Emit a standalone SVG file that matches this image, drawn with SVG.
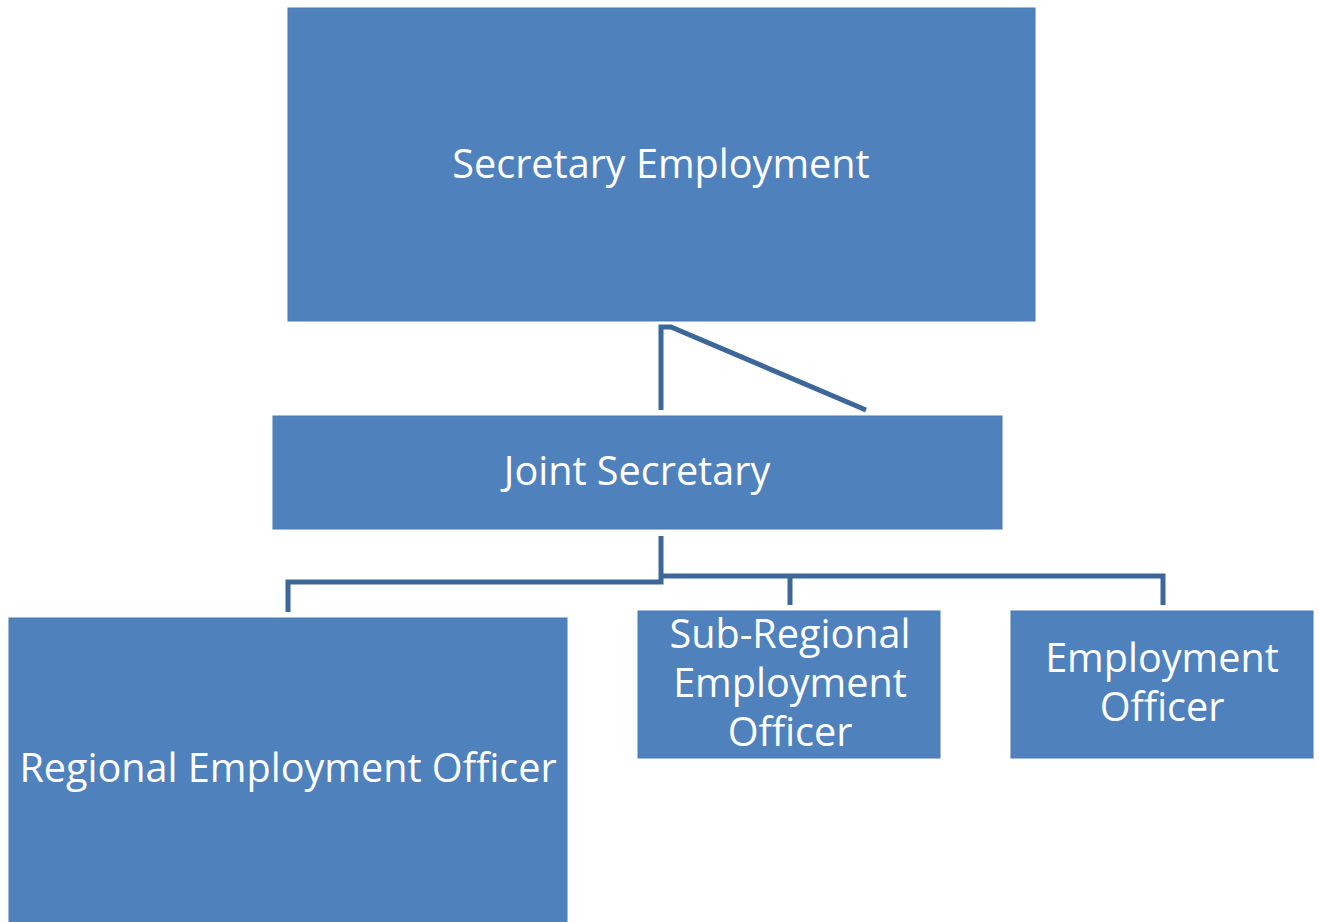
<svg xmlns="http://www.w3.org/2000/svg" width="1319" height="922" viewBox="0 0 1319 922">
<style>
.box{fill:#4F81BD;stroke:#4A7AB4;stroke-width:1}
.t{font-family:"Open Sans","Liberation Sans",sans-serif;font-size:39.6px;fill:#FFFFFF;text-anchor:middle}
.c{fill:none;stroke:#3D6699;stroke-width:5;stroke-linejoin:miter}
</style>
<rect width="1319" height="922" fill="#FFFFFF"/>
<g id="connectors">
<path class="c" d="M661,410 V327 H671 L866,410"/>
<path class="c" d="M661,536 V582 H288 V612"/>
<path class="c" d="M661,576 H1163 V605"/>
<path class="c" d="M790,576 V605"/>
</g>
<g id="secretary">
<rect class="box" x="288" y="8" width="747" height="313"/>
<text class="t" x="661" y="178">Secretary Employment</text>
</g>
<g id="joint">
<rect class="box" x="273" y="416" width="729" height="113"/>
<text class="t" x="637" y="485">Joint Secretary</text>
</g>
<g id="regional">
<rect class="box" x="9" y="618" width="558" height="310"/>
<text class="t" x="288" y="782">Regional Employment Officer</text>
</g>
<g id="subregional">
<rect class="box" x="638" y="611" width="302" height="147"/>
<text class="t" x="790" y="648">Sub-Regional</text>
<text class="t" x="790" y="697">Employment</text>
<text class="t" x="790" y="746">Officer</text>
</g>
<g id="employment">
<rect class="box" x="1011" y="611" width="302" height="147"/>
<text class="t" x="1162" y="672">Employment</text>
<text class="t" x="1162" y="721">Officer</text>
</g>
</svg>
